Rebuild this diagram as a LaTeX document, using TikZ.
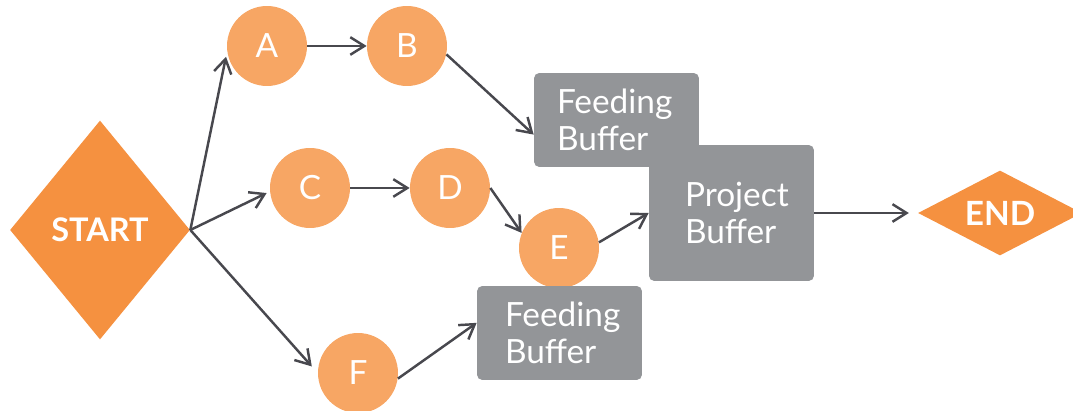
\documentclass[tikz,border=0pt]{standalone}
\usepackage{fontspec}
\setmainfont{Lato}
\definecolor{startorange}{RGB}{245,145,64}
\definecolor{taskorange}{RGB}{247,166,100}
\definecolor{buffergray}{RGB}{147,149,152}
\definecolor{arrowgray}{RGB}{72,72,78}
\usetikzlibrary{arrows.meta, shapes.geometric}

\begin{document}
\begin{tikzpicture}[x=0.02cm, y=-0.02cm,
  task/.style={circle, fill=taskorange, text=white, minimum size=1.6cm, inner sep=0pt, font=\fontsize{19}{22}\selectfont},
  milestone/.style={diamond, fill=startorange, text=white, inner sep=0pt, font=\bfseries\fontsize{18.5}{22}\selectfont},
  buffer/.style={rectangle, rounded corners=3pt, fill=buffergray, text=white, minimum height=1.88cm, inner xsep=0pt, text width=3.3cm, align=left, font=\fontsize{19}{21}\selectfont, execute at begin node={\leftskip=#1}},
  arr/.style={-{Straight Barb[length=8pt, width=10pt]}, line width=1.4pt, arrowgray}
]
  \useasboundingbox (0,0) rectangle (1073,411);

  % ── Milestones ──
  \node[milestone, minimum width=3.6cm, minimum height=4.38cm] (start) at (100,230) {START};
  \node[milestone, aspect=2, minimum width=3.28cm, minimum height=1.7cm, font=\bfseries\fontsize{19}{22}\selectfont] (end) at (1000,213) {END};

  % ── Buffers (behind) ──
  \node[buffer=0.46cm] (fb1) at (616.5,120) {Feeding\\Buffer};
  \node[buffer=0.72cm, minimum height=2.72cm] (pb) at (731.5,213) {Project\\Buffer};

  % ── Tasks ──
  \node[task] (a) at (267,46) {A};
  \node[task] (b) at (407,46) {B};
  \node[task] (c) at (310,188) {C};
  \node[task] (d) at (450,188) {D};
  \node[task] (e) at (559,248) {E};
  \node[task] (f) at (358,373) {F};

  \node[buffer=0.56cm] (fb2) at (559.5,333) {Feeding\\Buffer};

  % ── Chains ──
  \draw[arr, shorten >=3pt] (start.east) -- (a.188);
  \draw[arr] (a.east) -- (b.west);
  \draw[arr] (b.-12) -- (fb1.190);

  \draw[arr, shorten >=2pt] (start.east) -- (c.185);
  \draw[arr] (c.east) -- (d.west);
  \draw[arr] (d.east) -- (e.158);
  \draw[arr] (e.8) -- (pb.west);

  \draw[arr, shorten >=5pt] (start.east) -- (f.west);
  \draw[arr] (f.-8) -- (fb2.173);

  \draw[arr, shorten >=5pt] (pb.east) -- (end.west);
\end{tikzpicture}
\end{document}
